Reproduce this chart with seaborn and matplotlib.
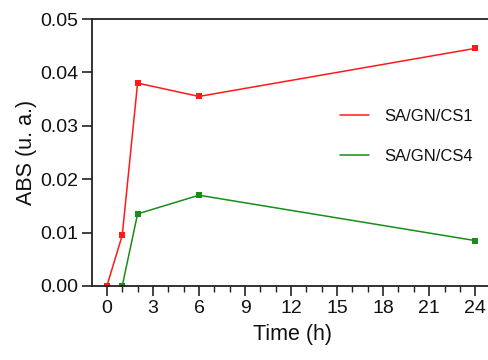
import matplotlib
matplotlib.use("Agg")
import matplotlib.pyplot as plt
from matplotlib.lines import Line2D
from matplotlib.ticker import MultipleLocator
import seaborn as sns
import pandas as pd

# datos
time_cs1 = [0, 1, 2, 6, 24]
abs_cs1 = [0.0, 0.0095, 0.038, 0.0355, 0.0445]
time_cs4 = [1, 2, 6, 24]
abs_cs4 = [0.0, 0.0135, 0.017, 0.0085]
series_names = ["SA/GN/CS1", "SA/GN/CS4"]
colors = ["#ff1a1a", "#1a8c1a"]

sns.set_style("ticks")
plt.rcParams["font.family"] = ["Liberation Sans", "DejaVu Sans"]

df1 = pd.DataFrame({"t": time_cs1, "abs": abs_cs1})
df4 = pd.DataFrame({"t": time_cs4, "abs": abs_cs4})

fig = plt.figure(figsize=(4.88, 3.6), dpi=100)
ax = fig.add_axes([92 / 488, 74 / 360, 1 - 92 / 488 + 0.01, 267 / 360])

for d, c in zip([df1, df4], colors):
    sns.lineplot(data=d, x="t", y="abs", ax=ax, color=c, lw=1.1,
                 marker="s", markersize=4.5, markeredgewidth=0)

ax.set_xlim(-0.97, 25.15)
ax.set_ylim(0, 0.05)
ax.xaxis.set_major_locator(MultipleLocator(3))
ax.xaxis.set_minor_locator(MultipleLocator(1))
ax.yaxis.set_major_locator(MultipleLocator(0.01))
ax.yaxis.set_major_formatter(matplotlib.ticker.FormatStrFormatter("%.2f"))

for s in ["left", "top", "bottom"]:
    ax.spines[s].set_linewidth(1.3)
    ax.spines[s].set_color("#222222")
ax.spines["right"].set_visible(False)
ax.tick_params(axis="both", which="major", direction="out", length=7, width=1.2,
               labelsize=14, colors="#222222", labelcolor="#111111", pad=3)
ax.tick_params(axis="x", which="minor", direction="out", length=4, width=1.0, colors="#222222")

ax.set_xlabel("Time (h)", fontsize=15.5, labelpad=5, color="#111111")
ax.set_ylabel("ABS (u. a.)", fontsize=15.5, labelpad=2, color="#111111")

handles = [Line2D([], [], color=c, lw=1.1) for c in colors]
ax.legend(handles, series_names, loc="upper left", bbox_to_anchor=(0.58, 0.72),
          frameon=False, fontsize=12, handlelength=1.75, handletextpad=0.95,
          labelspacing=1.5, labelcolor="#111111")

plt.savefig("out.png", dpi=100)
